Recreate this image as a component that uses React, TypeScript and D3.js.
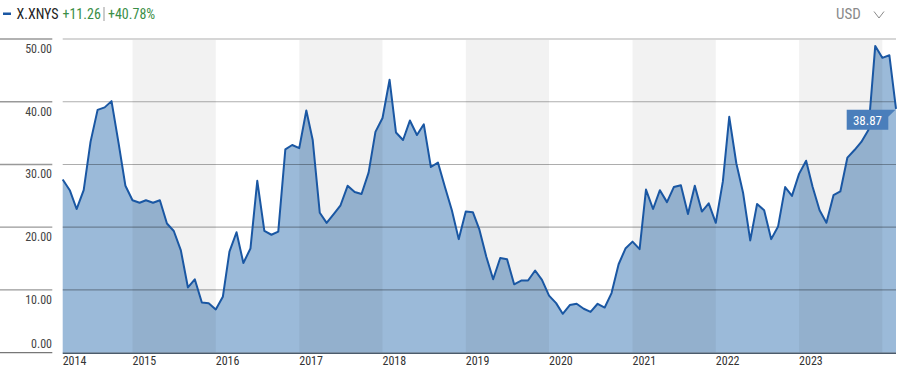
import React from "react";
import * as d3 from "d3";

// Monthly closing prices, Mar 2014 .. Mar 2024
const prices: number[] = [
  27.61, 25.9, 22.9, 25.9, 33.6, 38.7, 39.1, 40.1, 33.4, 26.6,
  24.3, 23.9, 24.3, 23.9, 24.3, 20.6, 19.4, 16.3, 10.4, 11.7,
  8.0, 7.9, 6.9, 8.9, 16.1, 19.2, 14.3, 16.6, 27.4, 19.4,
  18.8, 19.3, 32.4, 33.1, 32.6, 38.6, 33.9, 22.3, 20.7, 22.1,
  23.5, 26.6, 25.6, 25.3, 28.7, 35.2, 37.4, 43.5, 35.1, 33.9,
  37.0, 34.7, 36.4, 29.6, 30.3, 26.5, 22.7, 18.1, 22.5, 22.4,
  19.7, 15.3, 11.7, 15.1, 14.9, 10.9, 11.5, 11.5, 13.1, 11.6,
  9.1, 7.9, 6.2, 7.6, 7.8, 7.0, 6.5, 7.8, 7.2, 9.5,
  14.1, 16.6, 17.7, 16.5, 26.0, 22.9, 25.9, 24.0, 26.4, 26.7,
  22.1, 26.6, 22.5, 23.8, 20.7, 27.3, 37.6, 30.2, 25.4, 17.9,
  23.7, 22.7, 18.1, 20.1, 26.4, 25.0, 28.5, 30.6, 26.5, 22.7,
  20.7, 25.1, 25.7, 31.1, 32.3, 33.6, 35.5, 48.9, 47.0, 47.4,
  38.87,
];
const startYear = 2014;
const startMonth = 2; // March (0-based)

const yTicks: number[] = [0, 10, 20, 30, 40, 50];
const yearLabels: number[] = [2014, 2015, 2016, 2017, 2018, 2019, 2020, 2021, 2022, 2023];
const shadedYears: number[] = [2015, 2017, 2019, 2021, 2023];

const ticker = "X.XNYS";
const changeAbs = "+11.26";
const changePct = "+40.78%";
const lastLabel = "38.87";
const currency = "USD";

const FONT = "'Liberation Sans Narrow', 'Arial Narrow', 'Roboto Condensed', 'Liberation Sans', sans-serif";

export default function App() {
  const W = 900;
  const H = 374;
  const left = 62.7;
  const right = 896;
  const top = 39;
  const bottom = 352.7;

  const dates = prices.map((_, i) => new Date(Date.UTC(startYear, startMonth + i, 1)));
  const x = d3.scaleUtc().domain([dates[0], dates[dates.length - 1]]).range([left, right]);
  const y = d3.scaleLinear().domain([0, 50]).range([bottom, top]);

  const areaGen = d3
    .area<number>()
    .x((_, i) => x(dates[i]))
    .y0(y(0))
    .y1((d) => y(d));
  const lineGen = d3
    .line<number>()
    .x((_, i) => x(dates[i]))
    .y((d) => y(d));

  const lastX = x(dates[dates.length - 1]);
  const lastY = y(prices[prices.length - 1]);

  return (
    <svg
      width={W}
      height={H}
      style={{ position: "absolute", left: 0, top: 0, background: "#fff" }}
      fontFamily={FONT}
    >
      <rect x={0} y={0} width={W} height={H} fill="#fff" />

      {/* legend */}
      <rect x={3} y={12.5} width={8} height={2.5} fill="#1a57a3" />
      <text x={16.5} y={19} fontSize={14} fill="#222">
        {ticker}
      </text>
      <text x={62.5} y={19} fontSize={14} fill="#3b8e47">
        {changeAbs}
      </text>
      <rect x={103.5} y={7} width={1} height={14} fill="#999" />
      <text x={108} y={19} fontSize={14} fill="#3b8e47">
        {changePct}
      </text>

      <text x={836} y={19} fontSize={15} fill="#8a8a8a">
        {currency}
      </text>
      <path d="M874,11.5 L879,18 L884,11.5" fill="none" stroke="#8a8a8a" strokeWidth={1} />

      {/* area */}
      <path d={areaGen(prices) || ""} fill="#9bbad9" />

      {/* alternating year bands */}
      {shadedYears.map((yr) => {
        const x0 = x(new Date(Date.UTC(yr, 0, 1)));
        const x1 = Math.min(x(new Date(Date.UTC(yr + 1, 0, 1))), right);
        return (
          <rect key={yr} x={x0} y={40} width={x1 - x0} height={bottom - 40} fill="rgba(0,0,0,0.05)" />
        );
      })}

      {/* gridlines */}
      {yTicks.map((t) => (
        <g key={t}>
          <line x1={0} x2={52.3} y1={y(t)} y2={y(t)} stroke={t === 0 ? "#777" : "#999"} strokeWidth={1.3} />
          {t !== 0 && (
            <line x1={left} x2={right} y1={y(t)} y2={y(t)} stroke="rgba(0,0,0,0.32)" strokeWidth={1.2} />
          )}
          <text
            x={52}
            y={t === 0 ? y(t) - 4.5 : y(t) + 14}
            fontSize={12}
            fill="#444"
            textAnchor="end"
          >
            {d3.format(".2f")(t)}
          </text>
        </g>
      ))}

      {/* line */}
      <path d={lineGen(prices) || ""} fill="none" stroke="#1a57a3" strokeWidth={2} strokeLinejoin="round" />

      {/* baseline */}
      <line x1={left} x2={right} y1={bottom + 0.5} y2={bottom + 0.5} stroke="#4b5b6b" strokeWidth={1.5} />

      {/* year labels */}
      {yearLabels.map((yr) => {
        const xx = Math.max(x(new Date(Date.UTC(yr, 0, 1))), left);
        return (
          <text key={yr} x={xx} y={365} fontSize={12} fill="#333">
            {yr}
          </text>
        );
      })}

      {/* last value callout */}
      <path
        d={`M846.7,${lastY + 0.8} L${lastX - 0.5},${lastY + 0.8} L888.3,${lastY + 8} L888.3,${lastY + 20.8} L846.7,${lastY + 20.8} Z`}
        fill="#4a7ebb"
      />
      <text x={867.5} y={lastY + 16} fontSize={13} fill="#fff" textAnchor="middle">
        {lastLabel}
      </text>
    </svg>
  );
}
